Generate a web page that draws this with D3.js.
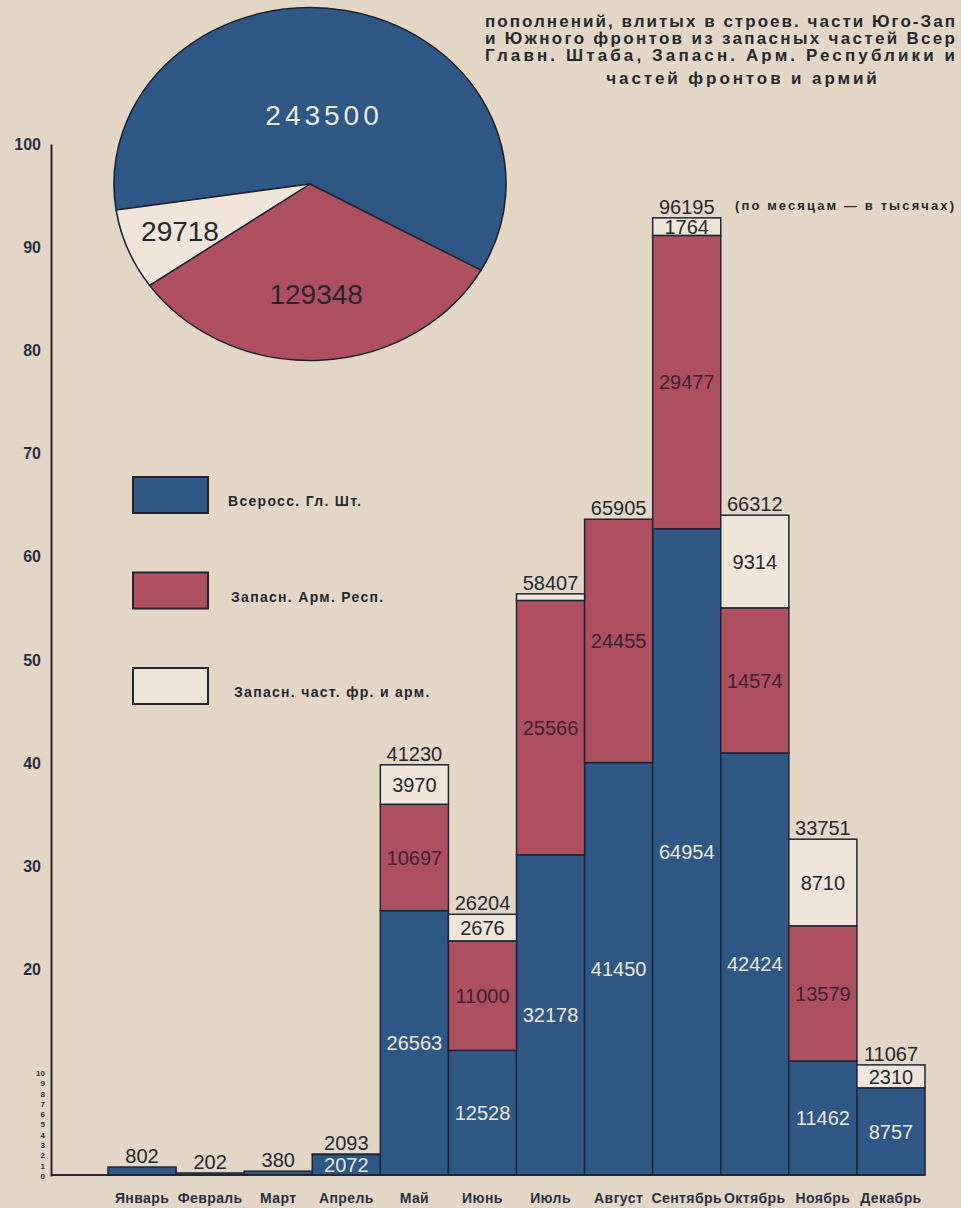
<!DOCTYPE html>
<html>
<head>
<meta charset="utf-8">
<script src="https://cdn.jsdelivr.net/npm/d3@7"></script>
<style>
  html, body { margin: 0; padding: 0; background: #e4d6c4; }
  svg { display: block; }
  text { font-family: "Liberation Sans", Arial, sans-serif; }
</style>
</head>
<body>
<div id="chart"></div>
<script>
// Data (thousands of men, by month)
const months = ['Январь', 'Февраль', 'Март', 'Апрель', 'Май', 'Июнь', 'Июль', 'Август', 'Сентябрь', 'Октябрь', 'Ноябрь', 'Декабрь'];
const glavShtab = [802, 202, 380, 2072, 26563, 12528, 32178, 41450, 64954, 42424, 11462, 8757];
const zapasArm = [0, 0, 0, 0, 10697, 11000, 25566, 24455, 29477, 14574, 13579, 0];
const zapasFront = [0, 0, 0, 21, 3970, 2676, 663, 0, 1764, 9314, 8710, 2310];
const monthTotals = [802, 202, 380, 2093, 41230, 26204, 58407, 65905, 96195, 66312, 33751, 11067];

const pieValues = [243500, 129348, 29718];
const seriesNames = ['Всеросс. Гл. Шт.', 'Запасн. Арм. Респ.', 'Запасн. част. фр. и арм.'];

const axisTicks = [20, 30, 40, 50, 60, 70, 80, 90, 100];
const smallTicks = [0, 1, 2, 3, 4, 5, 6, 7, 8, 9, 10];

const titleLines = [
    'пополнений, влитых в строев. части Юго-Зап',
    'и Южного фронтов из запасных частей Всер',
    'Главн. Штаба, Запасн. Арм. Республики и',
    'частей фронтов и армий'
];
const unitNote = '(по месяцам — в тысячах)';

// Colours
const BLUE = '#2f5886';
const RED = '#af5061';
const PAPER = '#efe5d8';
const INK = '#262830';
const colors = [BLUE, RED, PAPER];
const textColors = ['#ebe6dc', '#3b2430', INK];

const W = 961, H = 1208;

const svg = d3.select('#chart').append('svg')
    .attr('width', W)
    .attr('height', H);

svg.append('rect')
    .attr('width', W)
    .attr('height', H)
    .attr('fill', '#e4d6c4');

// Scales: the printed axis and the bars are not drawn to quite the same scale
const x = d3.scaleBand().domain(months).range([108, 925]).paddingInner(0);
const yBar = d3.scaleLinear().domain([0, 100000]).range([1175, 180]);
const yAxis = d3.scaleLinear().domain([0, 100]).range([1176, 144]);

// Title (first three lines squeezed to fit the page width)
const title = svg.append('g').attr('fill', INK)
    .attr('font-weight', 'bold')
    .attr('font-size', 17);

title.selectAll('text')
    .data(titleLines)
    .enter()
    .append('text')
    .attr('x', (d, i) => i === 3 ? 743 : 485)
    .attr('y', (d, i) => [27, 44, 61, 84][i])
    .attr('text-anchor', (d, i) => i === 3 ? 'middle' : 'start')
    .attr('letter-spacing', (d, i) => i === 3 ? 2.9 : null)
    .attr('textLength', (d, i) => i === 3 ? null : 470)
    .attr('lengthAdjust', 'spacing')
    .text(d => d);

svg.append('text')
    .attr('x', 735)
    .attr('y', 210)
    .attr('font-size', 13)
    .attr('font-weight', 'bold')
    .attr('letter-spacing', 2.1)
    .attr('fill', INK)
    .text(unitNote);

// Y axis (main labels)
const axisG = svg.append('g')
    .attr('transform', 'translate(51,0)')
    .call(d3.axisLeft(yAxis).tickValues(axisTicks).tickSize(0).tickSizeOuter(0).tickPadding(10));

axisG.select('.domain').attr('stroke', INK).attr('stroke-width', 2);
axisG.selectAll('text')
    .attr('font-family', '"Liberation Sans", Arial, sans-serif')
    .attr('font-size', 16)
    .attr('font-weight', 'bold')
    .attr('fill', '#2a3044');

// Small 0..10 labels at the foot of the axis
const smallG = svg.append('g')
    .attr('transform', 'translate(51,0)')
    .call(d3.axisLeft(yAxis).tickValues(smallTicks).tickSize(0).tickPadding(6));

smallG.select('.domain').remove();
smallG.selectAll('text')
    .attr('font-family', '"Liberation Sans", Arial, sans-serif')
    .attr('font-size', 8)
    .attr('font-weight', 'bold')
    .attr('fill', '#2a3044');

// Stacked bars
const table = months.map((m, i) => ({
    month: m,
    glav: glavShtab[i],
    arm: zapasArm[i],
    front: zapasFront[i],
    total: monthTotals[i]
}));

const keys = ['glav', 'arm', 'front'];
const series = d3.stack().keys(keys)(table);

const layers = svg.selectAll('.layer')
    .data(series)
    .enter()
    .append('g')
    .attr('class', 'layer');

layers.selectAll('rect')
    .data(d => d.filter(s => s[1] > s[0]))
    .enter()
    .append('rect')
    .attr('x', d => x(d.data.month))
    .attr('width', x.bandwidth())
    .attr('y', d => yBar(d[1]))
    .attr('height', d => yBar(d[0]) - yBar(d[1]))
    .attr('fill', function() { return colors[d3.select(this.parentNode).datum().index]; })
    .attr('stroke', '#1d2636')
    .attr('stroke-width', 1.5);

// Segment labels
layers.each(function(layer) {
    d3.select(this).selectAll('text')
        .data(layer.filter(s => s[1] - s[0] >= 1500))
        .enter()
        .append('text')
        .attr('x', d => x(d.data.month) + x.bandwidth() / 2)
        .attr('y', d => (yBar(d[0]) + yBar(d[1])) / 2)
        .attr('dy', '0.36em')
        .attr('text-anchor', 'middle')
        .attr('font-size', 20)
        .attr('fill', textColors[layer.index])
        .text(d => d[1] - d[0]);
});

// Totals above bars
svg.append('g').selectAll('text')
    .data(table)
    .enter()
    .append('text')
    .attr('x', d => x(d.month) + x.bandwidth() / 2)
    .attr('y', d => yBar(d.total) - 4)
    .attr('text-anchor', 'middle')
    .attr('font-size', 20)
    .attr('fill', INK)
    .text(d => d.total);

// Baseline
svg.append('line')
    .attr('x1', 51)
    .attr('x2', x.range()[1])
    .attr('y1', yBar(0))
    .attr('y2', yBar(0))
    .attr('stroke', INK)
    .attr('stroke-width', 2);

// Month labels
const xAxisG = svg.append('g')
    .attr('transform', `translate(0,${yBar(0)})`)
    .call(d3.axisBottom(x).tickSize(0).tickPadding(18));

xAxisG.select('.domain').remove();
xAxisG.selectAll('text')
    .attr('font-family', '"Liberation Sans", Arial, sans-serif')
    .attr('font-size', 14)
    .attr('font-weight', 'bold')
    .attr('letter-spacing', 0.4)
    .attr('fill', '#2a3044');

// Legend
const legend = svg.append('g')
    .attr('transform', 'translate(133,477)');

const legendItems = legend.selectAll('.legend-item')
    .data(seriesNames)
    .enter()
    .append('g')
    .attr('class', 'legend-item')
    .attr('transform', (d, i) => `translate(0, ${i * 95.5})`);

legendItems.append('rect')
    .attr('width', 75)
    .attr('height', 36)
    .attr('fill', (d, i) => colors[i])
    .attr('stroke', '#222530')
    .attr('stroke-width', 2);

legendItems.append('text')
    .attr('x', (d, i) => 95 + i * 3)
    .attr('y', 29)
    .attr('font-size', 14)
    .attr('font-weight', 'bold')
    .attr('letter-spacing', 1.3)
    .attr('fill', INK)
    .text(d => d);

// Pie (drawn slightly squashed, as in the print)
const pieCx = 310, pieCy = 184, pieR = 196, squash = 0.9;
const start = -98.5 * Math.PI / 180;

const pie = d3.pie().sort(null).startAngle(start).endAngle(start + 2 * Math.PI);
const arcs = pie(pieValues);
const arc = d3.arc().innerRadius(0).outerRadius(pieR);

const pieG = svg.append('g')
    .attr('transform', `translate(${pieCx},${pieCy}) scale(1,${squash})`);

pieG.selectAll('path')
    .data(arcs)
    .enter()
    .append('path')
    .attr('d', arc)
    .attr('fill', (d, i) => colors[i])
    .attr('stroke', '#1d2230')
    .attr('stroke-width', 1.6);

const labelRadius = [78, 122, 140];

svg.append('g').selectAll('text')
    .data(arcs)
    .enter()
    .append('text')
    .attr('transform', (d, i) => {
        const c = d3.arc().innerRadius(labelRadius[i]).outerRadius(labelRadius[i]).centroid(d);
        return `translate(${pieCx + c[0]},${pieCy + c[1] * squash})`;
    })
    .attr('dy', '0.36em')
    .attr('text-anchor', 'middle')
    .attr('font-size', 28)
    .attr('letter-spacing', (d, i) => i === 0 ? 4 : 0)
    .attr('fill', (d, i) => i === 0 ? '#ece8df' : INK)
    .text(d => d.data);
</script>
</body>
</html>
